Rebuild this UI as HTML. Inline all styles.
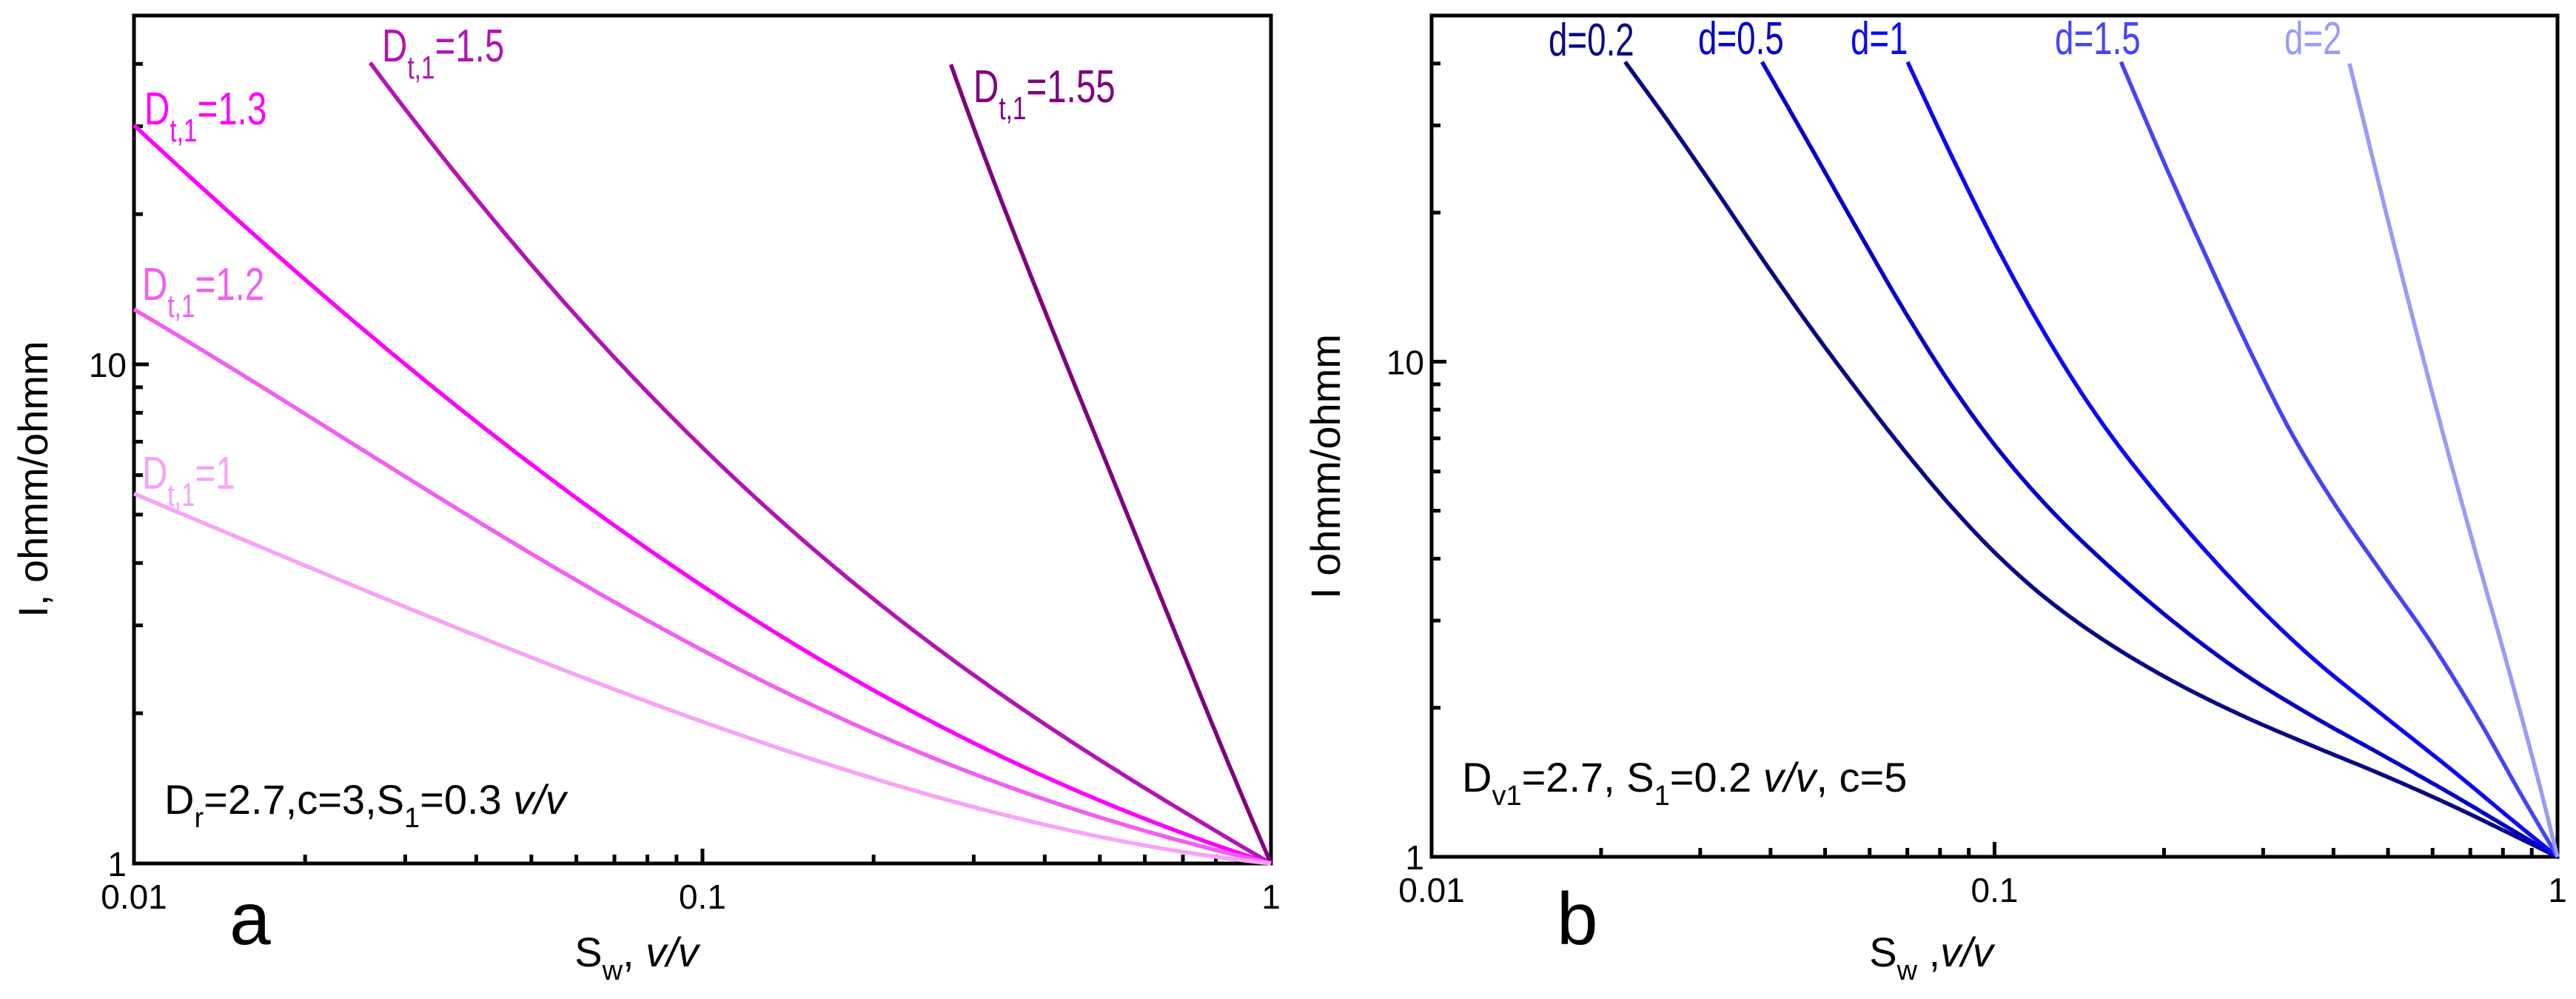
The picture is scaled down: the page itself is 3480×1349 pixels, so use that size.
<!DOCTYPE html>
<html><head><meta charset="utf-8"><style>
html,body{margin:0;padding:0;background:#fff}
svg{display:block}
text{font-family:"Liberation Sans",Arial,sans-serif}
</style></head><body>
<svg id="chart" width="3480" height="1349" viewBox="0 0 3480 1349" xmlns="http://www.w3.org/2000/svg">
<rect width="3480" height="1349" fill="#fff"/>
<g id="pa"></g>
<g id="pb"></g>
</svg>
<script>
// Panel a data
const aNames = ["1.55","1.5","1.3","1.2","1"];
const aColors = ["#800080","#b314b3","#ff00ff","#f25ef2","#f7a3f7"];
const aSw = [
 [0.2735,0.334,0.415,0.514,0.638,0.792,1],
 [0.02602,0.02918,0.034,0.03962,0.04617,0.05378,0.06268,0.07302,0.08511,0.1437,0.1882,0.2464,0.3227,0.4224,0.5529,0.7242,1],
 [0.01,0.01358,0.01844,0.02504,0.034,0.04617,0.06268,0.08511,0.1313,0.1881,0.2694,0.386,0.5529,0.792,1],
 [0.01,0.01358,0.01844,0.02504,0.034,0.04617,0.06268,0.08511,0.1313,0.1881,0.2694,0.386,0.5529,0.792,1],
 [0.01,0.01358,0.01844,0.02504,0.034,0.04617,0.06268,0.08511,0.1313,0.1881,0.2694,0.386,0.5529,0.792,1]
];
const aI = [
 [39.9,21.7,11.5,6.28,3.5,1.86,1],
 [40.2,34.1,27.4,21.8,17.75,14.43,11.86,9.75,8.01,4.63,3.59,2.86,2.28,1.81,1.48,1.24,1],
 [30.15,21.84,16.1,11.87,8.94,6.73,5.19,4.08,2.93,2.33,1.86,1.52,1.27,1.09,1],
 [12.89,10.41,8.37,6.73,5.42,4.45,3.66,3.01,2.22,1.86,1.577,1.371,1.208,1.078,1],
 [5.51,4.75,4.08,3.54,3.07,2.70,2.37,2.08,1.70,1.498,1.337,1.208,1.119,1.037,1]
];
// Panel b data
const bNames = ["0.2","0.5","1","1.5","2"];
const bColors = ["#0a0a85","#0000c8","#0a0af5","#4545f5","#9a9af8"];
const bSw = [
 [0.02207,0.02626,0.03185,0.03864,0.04688,0.05686,0.06898,0.08367,0.1015,0.1231,0.1571,0.2087,0.2772,0.3682,0.489,0.6497,0.8628,1],
 [0.03864,0.04688,0.05686,0.06898,0.08367,0.1015,0.1231,0.1493,0.2087,0.2772,0.3682,0.489,0.6497,0.8628,1],
 [0.07006,0.08367,0.1015,0.1231,0.1493,0.1811,0.2772,0.3682,0.489,0.6497,0.8628,1],
 [0.1677,0.2065,0.31,0.3413,0.4047,0.489,0.5908,0.7141,0.8628,1],
 [0.427,0.513,0.631,0.714,0.815,0.913,1]
];
const bI = [
 [40.3,30.8,22.86,15.79,11.7,8.83,6.54,5.02,4.0,3.24,2.686,2.215,1.898,1.67,1.469,1.292,1.077,1],
 [40.3,27.75,18.51,12.56,8.68,6.54,5.02,4.14,2.86,2.30,1.898,1.607,1.36,1.093,1],
 [40.3,25.86,16.36,11.1,7.81,5.79,3.25,2.455,1.923,1.547,1.12,1],
 [40.3,21.7,8.5,6.84,4.97,3.70,2.79,2.10,1.25,1],
 [40,16.3,6.84,4.10,2.455,1.566,1]
];
const xTicks = ["0.01","0.1","1"];
const yTicks = ["1","10"];

const NS="http://www.w3.org/2000/svg";
function mk(p,tag,attrs){const e=document.createElementNS(NS,tag);for(const k in attrs)e.setAttribute(k,attrs[k]);p.appendChild(e);return e;}
function polyfit(X,Y,deg){
 const n=deg+1,A=[],b=[];for(let i=0;i<n;i++){A.push(new Array(n).fill(0));b.push(0);}
 X.forEach((x,k)=>{const w=(k===0||k===X.length-1)?30:1;
  for(let i=0;i<n;i++){b[i]+=w*Y[k]*Math.pow(x,i);for(let j=0;j<n;j++)A[i][j]+=w*Math.pow(x,i+j);}});
 for(let i=0;i<n;i++){let p=i;for(let r=i+1;r<n;r++)if(Math.abs(A[r][i])>Math.abs(A[p][i]))p=r;
  [A[i],A[p]]=[A[p],A[i]];[b[i],b[p]]=[b[p],b[i]];
  for(let r=0;r<n;r++){if(r===i)continue;const f=A[r][i]/A[i][i];for(let c=i;c<n;c++)A[r][c]-=f*A[i][c];b[r]-=f*b[i];}}
 return b.map((v,i)=>v/A[i][i]);}
function fitCurve(X,Y){
 const deg=Math.min(4,X.length-2);const c=polyfit(X,Y,deg);
 const out=[];const N=120;
 for(let s=0;s<=N;s++){const x=X[0]+(X[X.length-1]-X[0])*s/N;let y=0;for(let i=c.length-1;i>=0;i--)y=y*x+c[i];out.push([x,y]);}
 return out;}
function monotone(X,Y,n){
 const m=X.length,d=[],t=new Array(m);
 for(let i=0;i<m-1;i++)d.push((Y[i+1]-Y[i])/(X[i+1]-X[i]));
 t[0]=d[0];t[m-1]=d[m-2];
 for(let i=1;i<m-1;i++){if(d[i-1]*d[i]<=0)t[i]=0;else{const h0=X[i]-X[i-1],h1=X[i+1]-X[i];const w1=2*h1+h0,w2=h1+2*h0;t[i]=(w1+w2)/(w1/d[i-1]+w2/d[i]);}}
 const out=[];
 for(let i=0;i<m-1;i++){const h=X[i+1]-X[i];
  for(let s=0;s<n;s++){const u=s/n;const h00=2*u*u*u-3*u*u+1,h10=u*u*u-2*u*u+u,h01=-2*u*u*u+3*u*u,h11=u*u*u-u*u;
   out.push([X[i]+u*h,h00*Y[i]+h10*h*t[i]+h01*Y[i+1]+h11*h*t[i+1]]);}}
 out.push([X[m-1],Y[m-1]]);return out;}
function smoothCurve(X,Y){
 let y=Y.slice();
 for(let pass=0;pass<2;pass++){const z=y.slice();
  for(let i=1;i<y.length-1;i++){const h0=X[i]-X[i-1],h1=X[i+1]-X[i];const lin=(y[i-1]*h1+y[i+1]*h0)/(h0+h1);z[i]=0.5*y[i]+0.5*lin;}
  y=z;}
 return monotone(X,y,20);}

function panel(g,L,R,T,B,sw,iv,colors,names,curveFn){
 const xs=v=>L+(Math.log10(v)+2)/2*(R-L);
 const ys=v=>B-Math.log10(v)/Math.log10(50)*(B-T);
 const fr=mk(g,"rect",{x:L,y:T,width:R-L,height:B-T,fill:"none",stroke:"#000","stroke-width":5});
 
 
 for(let dec=0.01;dec<0.5;dec*=10){for(let m=1;m<10;m++){const v=dec*m;const x=xs(v);const len=m===1?20:12;
  const t=mk(g,"line",{x1:x,x2:x,y1:B,y2:B-len,stroke:"#000","stroke-width":5});
  
  }}
 [1,2,3,4,5,6,7,8,9,10,20,30,40].forEach(v=>{const y=ys(v);const len=(v===1||v===10)?20:12;
  const t=mk(g,"line",{x1:L,x2:L+len,y1:y,y2:y,stroke:"#000","stroke-width":5});
  
  });
 xTicks.forEach(s=>{const x=xs(parseFloat(s));
  const t=mk(g,"text",{x:x,y:B+61,"font-size":46,"text-anchor":"middle"});t.textContent=s;
  
  });
 yTicks.forEach(s=>{const y=ys(parseFloat(s));
  const t=mk(g,"text",{x:L-10,y:y+17,"font-size":46,"text-anchor":"end"});t.textContent=s;
  
  });
 sw.forEach((arr,k)=>{
  const X=arr.map(v=>Math.log10(v)),Y=iv[k].map(v=>Math.log10(v));
  const pts=curveFn(X,Y).map(p=>[xs(Math.pow(10,p[0])),ys(Math.pow(10,p[1]))]);
  const d="M"+pts.map(p=>p[0].toFixed(1)+","+p[1].toFixed(1)).join(" L");
  const p=mk(g,"path",{d:d,fill:"none",stroke:colors[k],"stroke-width":5.5,"stroke-linejoin":"round"});
  
  });
}
panel(document.getElementById("pa"),181,1717,21,1166,aSw,aI,aColors,aNames,fitCurve);
panel(document.getElementById("pb"),1934,3455,21,1157,bSw,bI,bColors,bNames,smoothCurve);
</script>
<svg style="position:absolute;left:0;top:0" width="3480" height="1349" viewBox="0 0 3480 1349" xmlns="http://www.w3.org/2000/svg">
<g font-family="Liberation Sans, Arial, sans-serif" font-size="54">
<text x="1315" y="138" fill="#800080" transform="translate(1315,138) scale(0.88,1.15) translate(-1315,-138)">D<tspan font-size="38" dy="20">t,1</tspan><tspan dy="-20">=1.55</tspan></text>
<text x="516" y="83" fill="#b314b3" transform="translate(516,83) scale(0.88,1.15) translate(-516,-83)">D<tspan font-size="38" dy="20">t,1</tspan><tspan dy="-20">=1.5</tspan></text>
<text x="195" y="168" fill="#ff00ff" transform="translate(195,168) scale(0.88,1.15) translate(-195,-168)">D<tspan font-size="38" dy="20">t,1</tspan><tspan dy="-20">=1.3</tspan></text>
<text x="192" y="405" fill="#f25ef2" transform="translate(192,405) scale(0.88,1.15) translate(-192,-405)">D<tspan font-size="38" dy="20">t,1</tspan><tspan dy="-20">=1.2</tspan></text>
<text x="192" y="660" fill="#f7a3f7" transform="translate(192,660) scale(0.88,1.15) translate(-192,-660)">D<tspan font-size="38" dy="20">t,1</tspan><tspan dy="-20">=1</tspan></text>
<text x="222" y="1099" font-size="56">D<tspan font-size="38" dy="18">r</tspan><tspan dy="-18">=2.7,c=3,S</tspan><tspan font-size="38" dy="18">1</tspan><tspan dy="-18">=0.3 </tspan><tspan font-style="italic">v/v</tspan></text>
<text x="310" y="1275" font-size="100">a</text>
<text x="860" y="1305" font-size="56" text-anchor="middle">S<tspan font-size="38" dy="18">w</tspan><tspan dy="-18">, </tspan><tspan font-style="italic">v/v</tspan></text>
<text x="0" y="0" font-size="56" text-anchor="middle" transform="translate(64,647) rotate(-90)">I, ohmm/ohmm</text>

<text x="2092" y="75" fill="#0a0a85" font-size="52" transform="translate(2092,75) scale(0.88,1.2) translate(-2092,-75)">d=0.2</text>
<text x="2294" y="73" fill="#0000c8" font-size="52" transform="translate(2294,73) scale(0.88,1.2) translate(-2294,-73)">d=0.5</text>
<text x="2500" y="73" fill="#0a0af5" font-size="52" transform="translate(2500,73) scale(0.88,1.2) translate(-2500,-73)">d=1</text>
<text x="2776" y="73" fill="#4545f5" font-size="52" transform="translate(2776,73) scale(0.88,1.2) translate(-2776,-73)">d=1.5</text>
<text x="3086" y="73" fill="#9a9af8" font-size="52" transform="translate(3086,73) scale(0.88,1.2) translate(-3086,-73)">d=2</text>
<text x="1975" y="1069" font-size="56">D<tspan font-size="38" dy="18">v1</tspan><tspan dy="-18">=2.7, S</tspan><tspan font-size="38" dy="18">1</tspan><tspan dy="-18">=0.2 </tspan><tspan font-style="italic">v/v</tspan><tspan>, c=5</tspan></text>
<text x="2103" y="1275" font-size="100">b</text>
<text x="2609" y="1305" font-size="56" text-anchor="middle">S<tspan font-size="38" dy="18">w</tspan><tspan dy="-18"> ,</tspan><tspan font-style="italic">v/v</tspan></text>
<text x="0" y="0" font-size="56" text-anchor="middle" transform="translate(1810,630) rotate(-90)">I ohmm/ohmm</text>
</g>
</svg>
</body></html>
